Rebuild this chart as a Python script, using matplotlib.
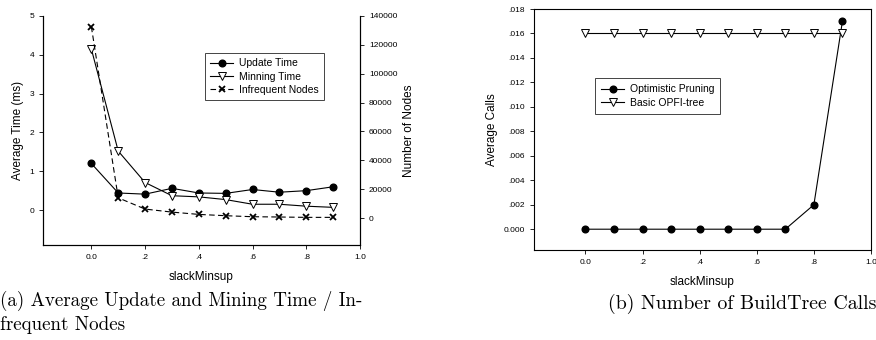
import matplotlib.pyplot as plt
import numpy as np

# data
slack = [0.0, 0.1, 0.2, 0.3, 0.4, 0.5, 0.6, 0.7, 0.8, 0.9]
update_time = [1.2, 0.44, 0.41, 0.56, 0.44, 0.43, 0.53, 0.46, 0.50, 0.60]
mining_time = [4.15, 1.52, 0.71, 0.37, 0.34, 0.27, 0.15, 0.15, 0.10, 0.07]
infreq_nodes = [132600, 14000, 6200, 4100, 2500, 1600, 900, 700, 450, 450]
optimistic = [0, 0, 0, 0, 0, 0, 0, 0, 0.002, 0.017]
basic = [0.016] * 10

sans = 'Liberation Sans'
tick_fs = 6
lab_fs = 8.5
leg_fs = 7.5

fig = plt.figure(figsize=(8.76, 3.40), dpi=100)

# ---- (a) left chart
ax = fig.add_axes([43/876, 1-245/340, (360-43)/876, (245-16)/340])
ax2 = ax.twinx()
l1, = ax.plot(slack, update_time, color='black', lw=0.8, marker='o', ms=4.8,
              mfc='black', mec='black', label='Update Time')
l2, = ax.plot(slack, mining_time, color='black', lw=0.8, marker='v', ms=5.2,
              mfc='white', mec='black', mew=0.7, label='Minning Time')
l3, = ax2.plot(slack, infreq_nodes, color='black', lw=0.8, ls=(0, (5, 3)),
               marker='x', ms=4, mew=1.3, mec='black', label='Infrequent Nodes')
ax.set_xlim(-0.18, 1.0)
ax.set_ylim(-0.9, 5)
ax2.set_ylim(-18700, 140000)
ax.set_xticks([0, 0.2, 0.4, 0.6, 0.8, 1.0])
ax.set_xticklabels(['0.0', '.2', '.4', '.6', '.8', '1.0'])
ax.set_yticks([0, 1, 2, 3, 4, 5])
ax2.set_yticks(np.arange(0, 140001, 20000))
for a in (ax, ax2):
    a.spines['top'].set_visible(False)
    for s in a.spines.values():
        s.set_linewidth(0.8)
    a.tick_params(labelsize=tick_fs, length=3, width=0.6, direction='out')
    for t in a.get_xticklabels() + a.get_yticklabels():
        t.set_fontfamily(sans)
ax.set_xlabel('slackMinsup', fontsize=lab_fs, family=sans, labelpad=7)
ax.set_ylabel('Average Time (ms)', fontsize=lab_fs, family=sans, labelpad=4)
ax2.set_ylabel('Number of Nodes', fontsize=lab_fs, family=sans, labelpad=4)
leg = ax.legend(handles=[l1, l2, l3], loc='upper left',
                bbox_to_anchor=(157/317, 1-32/229),
                prop={'family': sans, 'size': leg_fs}, fancybox=False,
                edgecolor='#444444', framealpha=1, handlelength=2.2,
                handletextpad=0.5, borderpad=0.5, labelspacing=0.3)
leg.get_frame().set_linewidth(0.7)

# ---- (b) right chart
bx = fig.add_axes([534/876, 1-250/340, (871-534)/876, (250-9)/340])
p1, = bx.plot(slack, optimistic, color='black', lw=0.8, marker='o', ms=4.8,
              mfc='black', mec='black', label='Optimistic Pruning')
p2, = bx.plot(slack, basic, color='black', lw=0.8, marker='v', ms=5.2,
              mfc='white', mec='black', mew=0.7, label='Basic OPFI-tree')
bx.set_xlim(-0.18, 1.0)
bx.set_ylim(-0.0017, 0.018)
bx.set_xticks([0, 0.2, 0.4, 0.6, 0.8, 1.0])
bx.set_xticklabels(['0.0', '.2', '.4', '.6', '.8', '1.0'])
yt = np.arange(0, 0.0181, 0.002)
bx.set_yticks(yt)
bx.set_yticklabels(['0.000'] + ['.%03d' % round(v * 1000) for v in yt[1:]])
for s in bx.spines.values():
    s.set_linewidth(0.8)
bx.tick_params(labelsize=tick_fs, length=3, width=0.6, direction='out')
for t in bx.get_xticklabels() + bx.get_yticklabels():
    t.set_fontfamily(sans)
bx.set_xlabel('slackMinsup', fontsize=lab_fs, family=sans, labelpad=7)
bx.set_ylabel('Average Calls', fontsize=lab_fs, family=sans, labelpad=4)
leg2 = bx.legend(handles=[p1, p2], loc='upper left',
                 bbox_to_anchor=(56/337, 1-64/241),
                 prop={'family': sans, 'size': leg_fs}, fancybox=False,
                 edgecolor='#444444', framealpha=1, handlelength=2.2,
                 handletextpad=0.5, borderpad=0.6, labelspacing=0.3)
leg2.get_frame().set_linewidth(0.7)

# captions
fig.text(0.0, 1-301/340, '(a) Average Update and Mining Time / In-',
         family='cmr10', fontsize=13.7, va='center', ha='left')
fig.text(0.0, 1-325/340, 'frequent Nodes',
         family='cmr10', fontsize=13.7, va='center', ha='left')
fig.text(1.0, 1-304/340, '(b) Number of BuildTree Calls',
         family='cmr10', fontsize=14.3, va='center', ha='right')

fig.savefig('out.png', dpi=100)
